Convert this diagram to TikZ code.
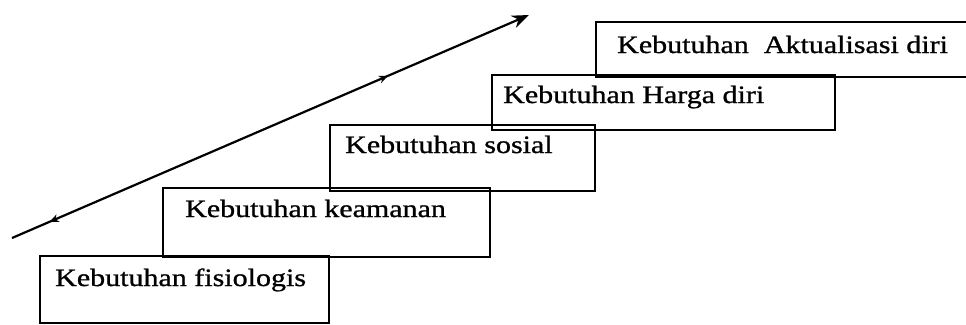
\documentclass[tikz,border=0pt]{standalone}
\usepackage{fontspec}
\setmainfont[FakeStretch=1.2,FakeBold=1]{Liberation Serif}
\usetikzlibrary{arrows.meta,decorations.markings}
\begin{document}
\begin{tikzpicture}[x=1pt,y=-1pt,
  stepbox/.style={draw=black, line width=1.9pt, rectangle, inner sep=0pt, outer sep=0pt},
  lbl/.style={anchor=base west, inner sep=0pt, font=\fontsize{25}{28}\selectfont},
  risearrow/.style={line width=2.2pt, -{Stealth[length=17pt,width=13pt]},
    postaction={decorate},
    decoration={markings,
      mark=at position 0.089 with {\arrow{Stealth[length=9pt,width=8pt,reversed]}},
      mark=at position 0.727 with {\arrow{Stealth[length=9pt,width=8pt]}}}}]
\useasboundingbox (0,0) rectangle (966,324);
\clip (0,0) rectangle (966,324);
% boxes
\node[stepbox, minimum width=289pt, minimum height=67pt] (b1) at (184.5,289.5) {};
\node[stepbox, minimum width=327pt, minimum height=69pt] (b2) at (326.5,222.5) {};
\node[stepbox, minimum width=265pt, minimum height=66pt] (b3) at (462.5,158) {};
\node[stepbox, minimum width=343pt, minimum height=55pt] (b4) at (663.5,102.5) {};
\node[stepbox, minimum width=394pt, minimum height=55pt] (b5) at (793,49.5) {};
% labels
\node[lbl] (t1) at (55,286) {Kebutuhan fisiologis};
\node[lbl] (t2) at (185,217) {Kebutuhan keamanan};
\node[lbl] (t3) at (345,153) {Kebutuhan sosial};
\node[lbl] (t4) at (503,103) {Kebutuhan Harga diri};
\node[lbl] (t5) at (617,53) {Kebutuhan\ \ Aktualisasi diri};
% arrow
\coordinate (s) at (12,238);
\coordinate (e) at (529,15);
\draw[risearrow] (s) -- (e);
\end{tikzpicture}
\end{document}
